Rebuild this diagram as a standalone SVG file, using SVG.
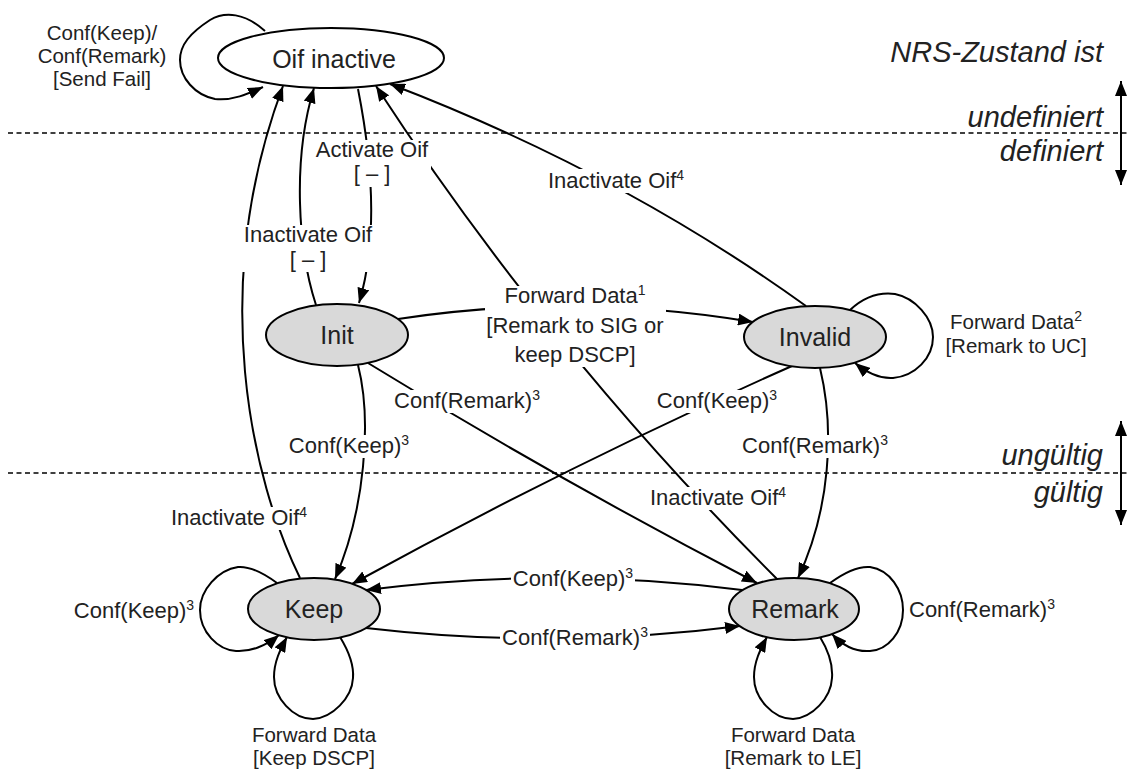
<svg xmlns="http://www.w3.org/2000/svg" width="1130" height="769" viewBox="0 0 1130 769">
<defs>
<marker id="ah" viewBox="0 0 15 12" refX="15" refY="6" markerWidth="15" markerHeight="12" markerUnits="userSpaceOnUse" orient="auto">
<path d="M0,0 L15,6 L0,12 z" fill="#000"/>
</marker>
<style>
.edge{fill:none;stroke:#000;stroke-width:2;marker-end:url(#ah)}
.zone{stroke:#000;stroke-width:1.3;stroke-dasharray:5 3.5}
.bg{fill:#fff}
.lbl{font-family:"Liberation Sans",Arial,sans-serif;font-size:22px;fill:#222;text-anchor:middle}
.sm{font-size:20.5px}
.st{text-anchor:start}
.ntxt{font-family:"Liberation Sans",Arial,sans-serif;font-size:25px;fill:#222;text-anchor:middle}
.it{font-family:"Liberation Sans",Arial,sans-serif;font-size:29px;font-style:italic;fill:#222;text-anchor:end}
.node{stroke:#000;stroke-width:2}
.state{fill:#d9d9d9}
.init{fill:#fff}
</style>
</defs>
<rect width="1130" height="769" fill="#fff"/>

<g id="zones">
<line class="zone" x1="8" y1="133" x2="1130" y2="133"/>
<line class="zone" x1="8" y1="473" x2="1130" y2="473"/>
<path class="edge" d="M1121,133 L1121,81"/>
<path class="edge" d="M1121,133 L1121,185"/>
<path class="edge" d="M1121,473 L1121,421"/>
<path class="edge" d="M1121,473 L1121,525"/>
<text class="it" x="1103" y="62">NRS-Zustand ist</text>
<text class="it" x="1103" y="127">undefiniert</text>
<text class="it" x="1103" y="161">definiert</text>
<text class="it" x="1103" y="465">ungültig</text>
<text class="it" x="1103" y="502">gültig</text>
</g>

<g id="connectors">
<path class="edge" d="M265,31 C245,13 225,11 210,20 C190,33 180,45 180,60 C180,78 195,95 215,99 C232,101 248,94 263,87"/>
<path class="edge" d="M358,89 C372,160 378,240 359,303"/>
<path class="edge" d="M316,305 C298,250 292,160 314,88"/>
<path class="edge" d="M300,578 C252,480 207,290 283,86"/>
<path class="edge" d="M358,365 C372,420 365,510 335,579"/>
<path class="edge" d="M398,319 Q575,292 753,322"/>
<path class="edge" d="M850,310 C865,296 880,292 895,294 C915,298 933,318 933,337 C933,358 915,376 893,378 C878,379 866,372 855,363"/>
<path class="edge" d="M806,306 Q620,172 390,84"/>
<path class="edge" d="M777,579 Q548,350 376,86"/>
<path class="edge" d="M368,363 Q555,478 757,583"/>
<path class="edge" d="M792,366 Q575,462 352,584"/>
<path class="edge" d="M820,368 C835,430 830,510 798,578"/>
<path class="edge" d="M742,590 Q555,566 366,590"/>
<path class="edge" d="M366,628 Q555,650 740,626"/>
<path class="edge" d="M277,583 C262,572 250,566 238,567 C218,570 200,590 200,610 C200,632 218,650 236,651 C250,652 266,646 279,635"/>
<path class="edge" d="M340,637 C348,650 354,665 353,678 C352,698 332,718 313,719 C293,719 274,698 274,677 C274,662 280,650 287,637"/>
<path class="edge" d="M830,583 C845,572 858,566 870,567 C890,570 903,590 903,610 C903,632 888,650 870,651 C856,652 843,646 832,634"/>
<path class="edge" d="M820,637 C828,650 833,665 832,678 C831,698 812,718 793,719 C773,719 754,698 754,677 C754,662 760,650 767,637"/>

<g id="edge-labels">
<text class="lbl sm" x="102" y="40">Conf(Keep)/</text>
<text class="lbl sm" x="102" y="63">Conf(Remark)</text>
<text class="lbl sm" x="102" y="86">[Send Fail]</text>

<rect class="bg" x="313" y="140" width="118" height="47"/>
<text class="lbl" x="372" y="157">Activate Oif</text>
<text class="lbl" x="372" y="181">[ – ]</text>

<rect class="bg" x="242" y="225" width="132" height="47"/>
<text class="lbl" x="308" y="242">Inactivate Oif</text>
<text class="lbl" x="308" y="267">[ – ]</text>

<rect class="bg" x="547" y="169" width="140" height="24"/>
<text class="lbl" x="616" y="188">Inactivate Oif<tspan font-size="14" dy="-8">4</tspan></text>

<rect class="bg" x="485" y="286" width="181" height="81"/>
<text class="lbl" x="575" y="303">Forward Data<tspan font-size="14" dy="-8">1</tspan></text>
<text class="lbl" x="575" y="333">[Remark to SIG or</text>
<text class="lbl" x="575" y="362">keep DSCP]</text>

<text class="lbl sm" x="1016" y="329">Forward Data<tspan font-size="14" dy="-8">2</tspan></text>
<text class="lbl sm" x="1016" y="353">[Remark to UC]</text>

<rect class="bg" x="392" y="390" width="150" height="23"/>
<text class="lbl" x="467" y="408">Conf(Remark)<tspan font-size="14" dy="-8">3</tspan></text>

<rect class="bg" x="655" y="390" width="124" height="23"/>
<text class="lbl" x="717" y="408">Conf(Keep)<tspan font-size="14" dy="-8">3</tspan></text>

<rect class="bg" x="287" y="435" width="124" height="23"/>
<text class="lbl" x="349" y="453">Conf(Keep)<tspan font-size="14" dy="-8">3</tspan></text>

<rect class="bg" x="740" y="435" width="150" height="23"/>
<text class="lbl" x="815" y="453">Conf(Remark)<tspan font-size="14" dy="-8">3</tspan></text>

<rect class="bg" x="169" y="507" width="140" height="23"/>
<text class="lbl" x="239" y="525">Inactivate Oif<tspan font-size="14" dy="-8">4</tspan></text>

<rect class="bg" x="648" y="487" width="140" height="23"/>
<text class="lbl" x="718" y="505">Inactivate Oif<tspan font-size="14" dy="-8">4</tspan></text>

<rect class="bg" x="511" y="568" width="124" height="23"/>
<text class="lbl" x="573" y="586">Conf(Keep)<tspan font-size="14" dy="-8">3</tspan></text>

<rect class="bg" x="500" y="627" width="150" height="23"/>
<text class="lbl" x="575" y="645">Conf(Remark)<tspan font-size="14" dy="-8">3</tspan></text>

<text class="lbl" x="134" y="618">Conf(Keep)<tspan font-size="14" dy="-8">3</tspan></text>
<text class="lbl st" x="909" y="617">Conf(Remark)<tspan font-size="14" dy="-8">3</tspan></text>

<text class="lbl sm" x="314" y="742">Forward Data</text>
<text class="lbl sm" x="314" y="765">[Keep DSCP]</text>
<text class="lbl sm" x="793" y="742">Forward Data</text>
<text class="lbl sm" x="793" y="765">[Remark to LE]</text>
</g>
</g>

<g id="node-oif-inactive">
<ellipse class="node init" cx="331" cy="58" rx="113" ry="30"/>
<text class="ntxt" x="334" y="68">Oif inactive</text>
</g>
<g id="node-init">
<ellipse class="node state" cx="337" cy="335" rx="71" ry="31"/>
<text class="ntxt" x="337" y="344">Init</text>
</g>
<g id="node-invalid">
<ellipse class="node state" cx="815" cy="337" rx="71" ry="31"/>
<text class="ntxt" x="815" y="346">Invalid</text>
</g>
<g id="node-keep">
<ellipse class="node state" cx="314" cy="609" rx="66" ry="31"/>
<text class="ntxt" x="314" y="618">Keep</text>
</g>
<g id="node-remark">
<ellipse class="node state" cx="794" cy="609" rx="65" ry="31"/>
<text class="ntxt" x="795" y="618">Remark</text>
</g>
</svg>
